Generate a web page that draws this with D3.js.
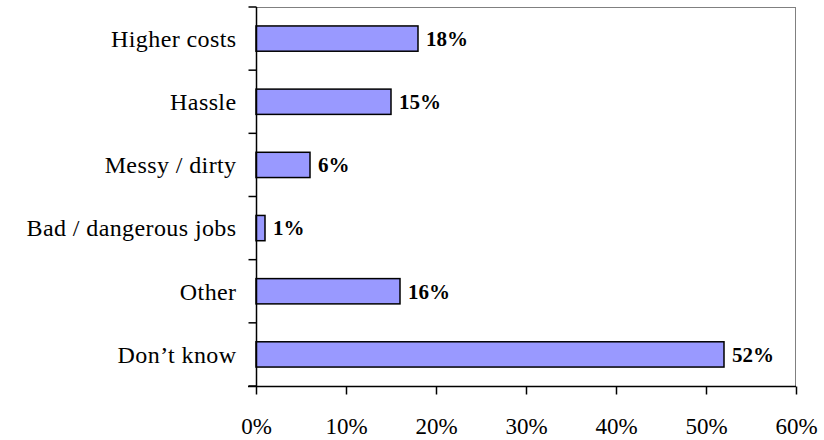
<!DOCTYPE html>
<html>
<head>
<meta charset="utf-8">
<script src="https://cdn.jsdelivr.net/npm/d3@7"></script>
<style>
  body { margin: 0; background: #fff; }
  text { font-family: "Liberation Serif", "DejaVu Serif", serif; fill: #000; }
</style>
</head>
<body>
<div id="chart"></div>
<script>
// survey answers, percent
var categories = ['Higher costs', 'Hassle', 'Messy / dirty', 'Bad / dangerous jobs', 'Other', 'Don\u2019t know'];
var values = [18, 15, 6, 1, 16, 52];
var tickValues = [0, 10, 20, 30, 40, 50, 60];

var width = 824, height = 440;
var plotLeft = 256, plotRight = 796, plotTop = 7, plotBottom = 386;

var svg = d3.select('#chart').append('svg')
  .attr('width', width)
  .attr('height', height);

var x = d3.scaleLinear().domain([0, 60]).range([plotLeft, plotRight]);
var y = d3.scaleBand().domain(categories).range([plotTop, plotBottom]).paddingInner(0.6).paddingOuter(0.3);

// plot frame (top and right in grey)
svg.append('line')
  .attr('x1', plotLeft).attr('x2', plotRight).attr('y1', plotTop + 0.5).attr('y2', plotTop + 0.5)
  .attr('stroke', '#808080').attr('stroke-width', 1);
svg.append('line')
  .attr('x1', plotRight - 0.5).attr('x2', plotRight - 0.5).attr('y1', plotTop).attr('y2', plotBottom)
  .attr('stroke', '#808080').attr('stroke-width', 1);

// bars
svg.selectAll('rect.bar').data(values).enter().append('rect')
  .attr('class', 'bar')
  .attr('x', x(0))
  .attr('y', function (d, i) { return y(categories[i]); })
  .attr('width', function (d) { return x(d) - x(0); })
  .attr('height', y.bandwidth())
  .attr('fill', '#9999ff')
  .attr('stroke', '#000')
  .attr('stroke-width', 1.5);

// value labels
svg.selectAll('text.val').data(values).enter().append('text')
  .attr('class', 'val')
  .attr('x', function (d) { return x(d) + 8; })
  .attr('y', function (d, i) { return y(categories[i]) + y.bandwidth() / 2; })
  .attr('dy', '0.35em')
  .attr('font-size', 21)
  .attr('font-weight', 'bold')
  .text(function (d) { return d + '%'; });

// y axis: ticks between categories
var yAxis = svg.append('g').attr('transform', 'translate(' + (plotLeft + 0.5) + ',0)');
yAxis.append('line')
  .attr('x1', 0).attr('x2', 0).attr('y1', plotTop).attr('y2', plotBottom)
  .attr('stroke', '#000').attr('stroke-width', 1.5);
var step = (plotBottom - plotTop) / categories.length;
yAxis.selectAll('line.tk').data(d3.range(categories.length + 1)).enter().append('line')
  .attr('class', 'tk')
  .attr('x1', -8).attr('x2', 0)
  .attr('y1', function (d) { return plotTop + d * step; })
  .attr('y2', function (d) { return plotTop + d * step; })
  .attr('stroke', '#000').attr('stroke-width', 1.5);
yAxis.selectAll('text').data(categories).enter().append('text')
  .attr('x', -20)
  .attr('y', function (d) { return y(d) + y.bandwidth() / 2; })
  .attr('dy', '0.35em')
  .attr('text-anchor', 'end')
  .attr('font-size', 24)
  .attr('letter-spacing', 0.4)
  .text(function (d) { return d; });

// x axis
var xAxis = svg.append('g').attr('transform', 'translate(0,' + (plotBottom + 0.5) + ')')
  .call(d3.axisBottom(x).tickValues(tickValues).tickSize(8).tickPadding(23)
    .tickFormat(function (d) { return d + '%'; }));
xAxis.select('.domain').remove();
xAxis.append('line')
  .attr('x1', plotLeft - 8).attr('x2', plotRight).attr('y1', 0).attr('y2', 0)
  .attr('stroke', '#000').attr('stroke-width', 1.5);
xAxis.selectAll('.tick line').attr('stroke', '#000').attr('stroke-width', 1.5);
xAxis.selectAll('.tick text')
  .attr('font-size', 23)
  .attr('font-family', '"Liberation Serif", serif')
  .attr('fill', '#000');
</script>
</body>
</html>
